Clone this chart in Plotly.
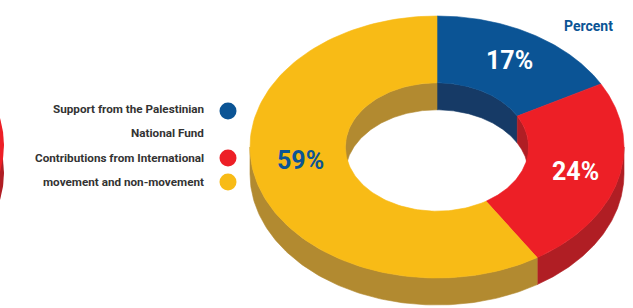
import numpy as np
import plotly.graph_objects as go

# ---------------- data ----------------
categories = ["Support from the Palestinian National Fund",
              "Contributions from International",
              "movement and non-movement"]
values = [17, 24, 59]
value_labels = ["17%", "24%", "59%"]
legend_lines = ["Support from the Palestinian", "National Fund",
                "Contributions from International", "movement and non-movement"]
legend_line_dot = [0, None, 1, 2]   # which category dot sits beside each line
title_text = "Percent"

# ---------------- style ----------------
top_colors = ["#0b5495", "#ed1f26", "#f8bb16"]
side_colors = ["#163a66", "#b01e24", "#b28a30"]
label_colors = ["white", "white", "#0b5495"]
FONT = "Liberation Sans Narrow, Roboto, Arial, sans-serif"

W, H = 633, 308
CX, CY = 437, 147
A_OUT, B_OUT = 187, 131
HOLE = 0.49
DEPTH = 27
N = 120


def ell(theta_deg, frac, dy=0.0):
    t = np.radians(theta_deg)
    return CX + A_OUT * frac * np.sin(t), CY - B_OUT * frac * np.cos(t) + dy


def arc(t0, t1, frac, dy=0.0):
    th = np.linspace(t0, t1, N)
    return ell(th, frac, dy)


fig = go.Figure()


def poly(xs, ys, color):
    fig.add_trace(go.Scatter(x=np.r_[xs, xs[0]], y=np.r_[ys, ys[0]], mode="lines",
                             fill="toself", fillcolor=color,
                             line=dict(width=0.6, color=color),
                             hoverinfo="skip", showlegend=False))


total = float(sum(values))
bounds = []
s = 0.0
for v in values:
    e = s + v / total * 360.0
    bounds.append((s, e))
    s = e

# outer side walls (front half: 90..270 deg clockwise from top)
for (s, e), c in zip(bounds, side_colors):
    a0, a1 = max(s, 90), min(e, 270)
    if a1 > a0:
        x1, y1 = arc(a0, a1, 1.0)
        x2, y2 = arc(a1, a0, 1.0, DEPTH)
        poly(np.r_[x1, x2], np.r_[y1, y2], c)

# inner walls (back half: 270..360 and 0..90)
for (s, e), c in zip(bounds, side_colors):
    for lo, hi in [(0, 90), (270, 360)]:
        a0, a1 = max(s, lo), min(e, hi)
        if a1 > a0:
            x1, y1 = arc(a0, a1, HOLE)
            x2, y2 = arc(a1, a0, HOLE, DEPTH)
            poly(np.r_[x1, x2], np.r_[y1, y2], c)

# top faces
for (s, e), c in zip(bounds, top_colors):
    x1, y1 = arc(s, e, 1.0)
    x2, y2 = arc(e, s, HOLE)
    poly(np.r_[x1, x2], np.r_[y1, y2], c)

# value labels
annotations = []
for i, ((s, e), lab) in enumerate(zip(bounds, value_labels)):
    mid = (s + e) / 2
    frac = 0.765
    if i == 2:
        mid, frac = 265, 0.735
    lx, ly = ell(mid, frac)
    if i == 2:
        ly += 5
    annotations.append(dict(x=lx, y=ly, text="<b>%s</b>" % lab, showarrow=False,
                            xanchor="center", yanchor="middle",
                            font=dict(family=FONT, size=25, color=label_colors[i])))

annotations.append(dict(x=615, y=26, text="<b>%s</b>" % title_text, showarrow=False,
                        xanchor="right", yanchor="middle",
                        font=dict(family=FONT, size=14, color="#0b5495")))

# legend
leg_y = [109, 133, 158, 182]
dot_x, dot_y, dot_c = [], [], []
for line, yy, d in zip(legend_lines, leg_y, legend_line_dot):
    annotations.append(dict(x=206, y=yy, text="<b>%s</b>" % line, showarrow=False,
                            xanchor="right", yanchor="middle",
                            font=dict(family=FONT, size=11.7, color="#333333")))
    if d is not None:
        dot_x.append(228)
        dot_y.append(yy + 2 if d == 0 else yy)
        dot_c.append(top_colors[d])
fig.add_trace(go.Scatter(x=dot_x, y=dot_y, mode="markers",
                         marker=dict(size=17, color=dot_c, line=dict(width=0)),
                         hoverinfo="skip", showlegend=False))

# sliver of the neighbouring chart on the far left edge
shapes = [
    dict(type="circle", xref="x", yref="y", x0=-370, x1=4, y0=173 - 131, y1=173 + 131,
         fillcolor="#b01e24", line=dict(width=0), layer="below"),
    dict(type="circle", xref="x", yref="y", x0=-370, x1=4, y0=145 - 131, y1=145 + 131,
         fillcolor="#ed1f26", line=dict(width=0), layer="below"),
]

fig.update_layout(
    width=W, height=H, margin=dict(l=0, r=0, t=0, b=0),
    paper_bgcolor="white", plot_bgcolor="white",
    xaxis=dict(range=[0, W], visible=False, fixedrange=True),
    yaxis=dict(range=[H, 0], visible=False, fixedrange=True),
    annotations=annotations, shapes=shapes, showlegend=False,
)

fig.write_html("out.html", config={"displayModeBar": False},
               post_script="document.body.style.margin='0';document.body.style.overflow='hidden';")
